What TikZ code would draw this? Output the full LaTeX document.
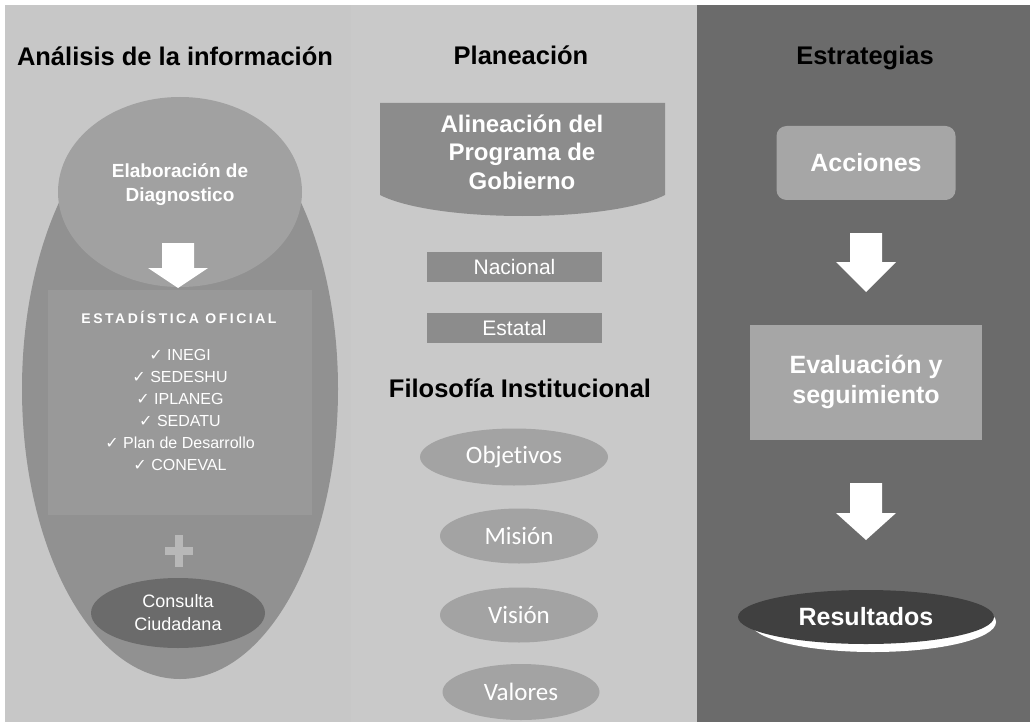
\documentclass[tikz,border=0pt]{standalone}
\usepackage{fontspec}
\setmainfont{Liberation Sans}
\newfontfamily\carl[Ligatures=NoCommon]{Carlito}
\newfontfamily\djv{DejaVu Sans}
\usetikzlibrary{shapes.geometric}
\newcommand{\chkmk}{{\djv\char"2713}}
\definecolor{leftbg}{gray}{0.78}
\definecolor{midbg}{gray}{0.79}
\definecolor{rightbg}{gray}{0.42}
\definecolor{ellbig}{gray}{0.57}
\definecolor{ellelab}{gray}{0.63}
\definecolor{rectc}{gray}{0.60}
\definecolor{consc}{gray}{0.42}
\definecolor{pluscol}{gray}{0.72}
\definecolor{boxmid}{gray}{0.55}
\definecolor{ellmid}{gray}{0.64}
\definecolor{boxright}{gray}{0.65}
\definecolor{resc}{gray}{0.25}
\begin{document}
\begin{tikzpicture}[x=1pt,y=-1pt,
  title/.style={font=\bfseries\fontsize{25.5}{30}\selectfont, text=black, inner sep=0, anchor=base},
  wbold/.style={text=white, align=center, inner sep=0, font=\bfseries\fontsize{24}{29}\selectfont},
  wreg/.style={text=white, align=center, inner sep=0},
  midell/.style={ellipse, fill=ellmid, inner sep=0, text=white, font=\carl\fontsize{25}{30}\selectfont},
  midbox/.style={rectangle, fill=boxmid, inner sep=0, minimum width=175, minimum height=30, text=white, font=\fontsize{21}{25}\selectfont},
  pics/blockdown/.style n args={2}{code={
    \fill[white] (-16,0) -- (16,0) -- (16,#1) -- (30,#1) -- (0,#1+#2) -- (-30,#1) -- (-16,#1) -- cycle;}}
]
\useasboundingbox (0,0) rectangle (1030,722);
\fill[white] (0,0) rectangle (1030,722);
% columns
\fill[leftbg] (5,5) rectangle (351,722);
\fill[midbg] (351,5) rectangle (697,722);
\fill[rightbg] (697,5) rectangle (1030,722);

% titles
\node[title] (t1) at (175,66) {Análisis de la información};
\node[title] (t2) at (521,65) {Planeación};
\node[title] (t3) at (865,65) {Estrategias};
\node[title] (t4) at (520,397) {Filosofía Institucional};

% ---- left column
\node[ellipse, fill=ellbig, minimum width=316, minimum height=580, inner sep=0] (big) at (180,389) {};
\node[ellipse, fill=ellelab, minimum width=244, minimum height=190, inner sep=0] (elab) at (180,192) {};
\node[wreg, font=\bfseries\fontsize{19}{24}\selectfont] (elabt) at (180,185) {Elaboración de\\Diagnostico};
\node[rectangle, fill=rectc, minimum width=264, minimum height=225, inner sep=0] (stat) at (180,402) {};
\pic at (178,243) {blockdown={25}{20}};
\node[wreg, font=\bfseries\fontsize{14}{17}\addfontfeature{LetterSpace=18}] (statt) at (179,317) {ESTADÍSTICA OFICIAL};
\node[wreg, font=\fontsize{16}{22}\selectfont] (items) at (180,410)
  {\chkmk{} INEGI\\\chkmk{} SEDESHU\\\chkmk{} IPLANEG\\\chkmk{} SEDATU\\\chkmk{} Plan de Desarrollo\\\chkmk{} CONEVAL};
\coordinate (plusc) at (179,551);
\fill[pluscol] (175,535) rectangle (183,567);
\fill[pluscol] (165,547) rectangle (193,555);
\node[ellipse, fill=consc, minimum width=174, minimum height=70, inner sep=0, text=white, align=center, font=\fontsize{18}{23}\selectfont] (cons) at (178,613) {Consulta\\Ciudadana};

% ---- middle column
\fill[boxmid] (380,103) -- (665,103) -- (665,195) .. controls (610,223) and (435,223) .. (380,195) -- cycle;
\node[wbold, font=\bfseries\fontsize{24}{28.5}\selectfont] (alin) at (522,152) {Alineación del\\Programa de\\Gobierno};
\node[midbox] (nac) at (514.5,267) {Nacional};
\node[midbox] (est) at (514.5,328) {Estatal};
\node[midell, minimum width=188, minimum height=57] (obj) at (514,457) {Objetivos};
\node[midell, minimum width=158, minimum height=55] (mis) at (519,536) {Misión};
\node[midell, minimum width=158, minimum height=55] (vis) at (519,615) {Visión};
\node[midell, minimum width=157, minimum height=56] (val) at (521,692) {Valores};

% ---- right column
\node[rectangle, rounded corners=10pt, fill=boxright, minimum width=179, minimum height=74, inner sep=0, text=white, font=\bfseries\fontsize{25}{30}\selectfont] (acc) at (866,163) {Acciones};
\pic at (866,233) {blockdown={29}{30}};
\node[rectangle, fill=boxright, minimum width=232, minimum height=115, inner sep=0, text=white, align=center, font=\bfseries\fontsize{25}{30}\selectfont] (eval) at (866,382) {Evaluación y\\seguimiento};
\pic at (866,483) {blockdown={30}{27}};
\fill[white] (873,622) ellipse [x radius=123, y radius=30];
\node[ellipse, fill=resc, minimum width=256, minimum height=54, inner sep=0, text=white, font=\bfseries\fontsize{25}{30}\selectfont] (res) at (866,617) {Resultados};
\end{tikzpicture}
\end{document}
